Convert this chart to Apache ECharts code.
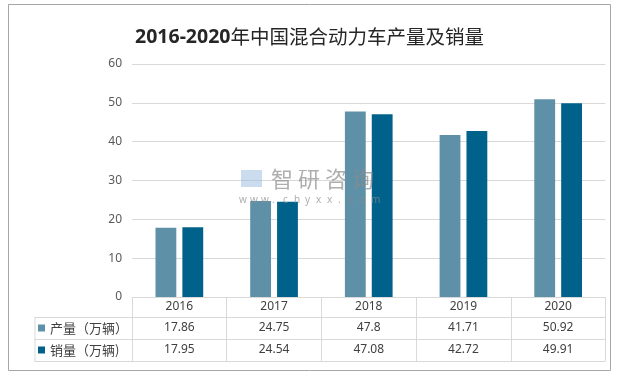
<!DOCTYPE html>
<html>
<head>
<meta charset="utf-8">
<script src="https://cdn.jsdelivr.net/npm/echarts@6/dist/echarts.min.js"></script>
<style>
  html, body { margin: 0; padding: 0; background: #fff; }
  #chart { width: 619px; height: 376px; }
</style>
</head>
<body>
<div id="chart"></div>
<script>
let years = ['2016', '2017', '2018', '2019', '2020'];
let production = [17.86, 24.75, 47.8, 41.71, 50.92];   // 产量（万辆）
let sales = [17.95, 24.54, 47.08, 42.72, 49.91];       // 销量（万辆)
let seriesNames = ['产量（万辆）', '销量（万辆)'];
let yMin = 0, yMax = 60, yStep = 10;

// layout of the plot + data table under it
let W = 619, H = 376;
let plotLeft = 132, plotRight = 605.5, plotTop = 64, axisY = 297;
let tableLeft = 34.5;
let rowLines = [317, 339, 361];

let lightBlue = '#5E91A8';
let darkBlue = '#00628A';
let gridGray = '#d9d9d9';

let tableLines = rowLines.map(y => ({
    type: 'line',
    silent: true,
    shape: { x1: tableLeft, y1: y + 0.5, x2: plotRight, y2: y + 0.5 },
    style: { stroke: gridGray, lineWidth: 1 }
}));
tableLines.push({
    type: 'line',
    silent: true,
    shape: { x1: tableLeft + 0.5, y1: rowLines[0], x2: tableLeft + 0.5, y2: rowLines[2] + 1 },
    style: { stroke: gridGray, lineWidth: 1 }
});

// faint site watermark in the middle of the plot
let wmFill = 'rgba(140,140,140,0.7)';
let watermark = [{
    type: 'rect',
    z: 100,
    silent: true,
    shape: { x: 241, y: 170, width: 21, height: 17 },
    style: { fill: 'rgba(150,185,220,0.5)' }
}];
'智研咨询'.split('').forEach((ch, i) => {
    watermark.push({
        type: 'text', z: 100, silent: true,
        style: { x: 271 + i * 27, y: 179, text: ch, font: '22px "Noto Sans CJK SC"', fill: wmFill, verticalAlign: 'middle' }
    });
});
'www.chyxx.com'.split('').forEach((ch, i) => {
    watermark.push({
        type: 'text', z: 100, silent: true,
        style: { x: 239 + i * 11, y: 200, text: ch, font: '10px "Noto Sans"', fill: wmFill, verticalAlign: 'middle' }
    });
});

let option = {
    backgroundColor: '#fff',
    animation: false,
    title: {
        text: '{a|2016-2020}{b|年中国混合动力车产量及销量}',
        left: 'center',
        top: 22,
        textStyle: {
            rich: {
                a: { fontFamily: 'Noto Sans', fontSize: 19.5, fontWeight: 'bold', color: '#262626' },
                b: { fontFamily: 'Noto Sans CJK SC', fontSize: 19.5, fontWeight: 'normal', color: '#262626' }
            }
        }
    },
    legend: {
        orient: 'vertical',
        left: 38,
        top: 317,
        padding: 0,
        itemGap: 0,
        itemWidth: 7,
        itemHeight: 7,
        icon: 'rect',
        selectedMode: false,
        data: seriesNames,
        textStyle: {
            fontFamily: 'Noto Sans CJK SC',
            fontSize: 13,
            color: '#404040',
            lineHeight: 22
        }
    },
    grid: {
        left: plotLeft,
        right: W - plotRight,
        top: plotTop,
        bottom: H - axisY,
        containLabel: false,
        outerBoundsMode: 'none'
    },
    xAxis: {
        type: 'category',
        data: years,
        boundaryGap: true,
        axisLine: { lineStyle: { color: gridGray } },
        axisTick: {
            show: true,
            alignWithLabel: false,
            length: 64,
            lineStyle: { color: gridGray }
        },
        axisLabel: {
            margin: 0,
            interval: 0,
            formatter: (value, index) =>
                '{y|' + value + '}\n{v|' + production[index] + '}\n{v|' + sales[index] + '}',
            rich: {
                y: { fontFamily: 'Noto Sans', fontSize: 12, color: '#404040', lineHeight: 20, align: 'center' },
                v: { fontFamily: 'Noto Sans', fontSize: 12, color: '#404040', lineHeight: 22, align: 'center' }
            }
        }
    },
    yAxis: {
        type: 'value',
        min: yMin,
        max: yMax,
        interval: yStep,
        axisLine: { show: false },
        axisTick: { show: false },
        axisLabel: {
            margin: 10,
            fontFamily: 'Noto Sans',
            fontSize: 12,
            color: '#595959'
        },
        splitLine: { lineStyle: { color: gridGray } }
    },
    series: [
        {
            name: seriesNames[0],
            type: 'bar',
            barWidth: '22%',
            barGap: '29%',
            itemStyle: { color: lightBlue },
            data: production
        },
        {
            name: seriesNames[1],
            type: 'bar',
            barWidth: '22%',
            itemStyle: { color: darkBlue },
            data: sales
        }
    ],
    graphic: [
        {
            type: 'rect',
            silent: true,
            shape: { x: 8.5, y: 4.5, width: 602, height: 366 },
            style: { fill: 'none', stroke: '#a6a6a6', lineWidth: 1 },
            z: 0
        },
        ...tableLines,
        ...watermark
    ]
};

let chart = echarts.init(document.getElementById('chart'));
chart.setOption(option);
</script>
</body>
</html>
